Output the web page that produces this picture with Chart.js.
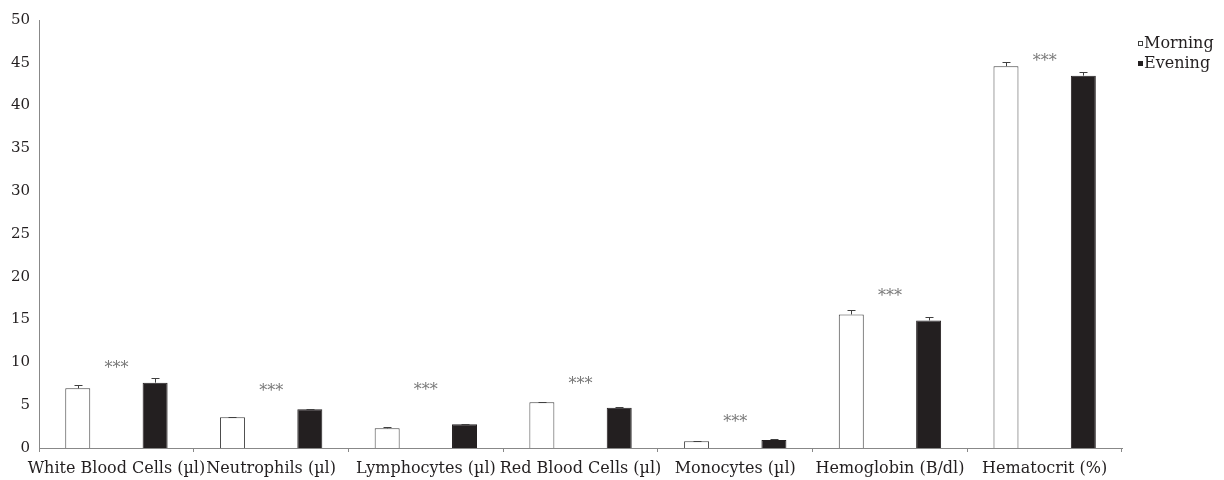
<!DOCTYPE html>
<html>
<head>
<meta charset="utf-8">
<script src="https://cdn.jsdelivr.net/npm/chart.js@4"></script>
<style>
  html, body { margin:0; padding:0; background:#fff; }
  #wrap { width:1224px; height:480px; }
</style>
</head>
<body>
<div id="wrap"><canvas id="chart" width="1224" height="480"></canvas></div>
<script>
// ----- Data -----
const CATEGORIES = ['White Blood Cells (\u00b5l)','Neutrophils (\u00b5l)','Lymphocytes (\u00b5l)','Red Blood Cells (\u00b5l)','Monocytes (\u00b5l)','Hemoglobin (B/dl)','Hematocrit (%)'];
const MORNING     = [6.97, 3.58, 2.30, 5.34, 0.78, 15.6, 44.6];
const MORNING_ERR = [0.40, 0.07, 0.15, 0.07, 0.07, 0.5, 0.5];
const EVENING     = [7.63, 4.52, 2.77, 4.71, 0.93, 14.9, 43.5];
const EVENING_ERR = [0.50, 0.08, 0.08, 0.12, 0.08, 0.4, 0.45];
const SIG_LEVEL   = [9.2, 6.6, 6.7, 7.4, 2.9, 17.7, 45.1];
const SIG_TEXT    = '***';
const Y_MIN = 0, Y_MAX = 50, Y_STEP = 5;

const FONT = 'DejaVu Serif';
const TEXT = '#231f20';

// ----- Plugins -----
const errorBars = {
  id:'errorBars',
  afterDatasetsDraw(chart){
    const {ctx, scales:{y}} = chart;
    ctx.save();
    ctx.strokeStyle = '#404040';
    ctx.lineWidth = 1;
    chart.data.datasets.forEach((ds,di)=>{
      const meta = chart.getDatasetMeta(di);
      meta.data.forEach((bar,i)=>{
        const top = Math.round(y.getPixelForValue(ds.data[i] + ds.errors[i])) + 0.5;
        const x = Math.round(bar.x) + 0.5;
        ctx.beginPath();
        ctx.moveTo(x, bar.y); ctx.lineTo(x, top);
        ctx.moveTo(x-4, top); ctx.lineTo(x+4, top);
        ctx.stroke();
      });
    });
    ctx.restore();
  }
};

const sigMarks = {
  id:'sigMarks',
  afterDatasetsDraw(chart){
    const {ctx, scales:{x,y}} = chart;
    ctx.save();
    ctx.fillStyle = '#777';
    ctx.font = `16px "${FONT}"`;
    ctx.textAlign = 'center';
    ctx.textBaseline = 'middle';
    SIG_LEVEL.forEach((v,i)=>{
      ctx.fillText(SIG_TEXT, x.getPixelForValue(i), y.getPixelForValue(v));
    });
    ctx.restore();
  }
};

// small legend: glyph-like square right against the text
const sideLegend = {
  id:'sideLegend',
  afterDraw(chart){
    const {ctx, chartArea} = chart;
    const left = chartArea.right + 16;
    ctx.save();
    ctx.font = `16px "${FONT}"`;
    ctx.textBaseline = 'alphabetic';
    ctx.textAlign = 'left';
    chart.data.datasets.forEach((ds,i)=>{
      const base = 48 + i*20;
      ctx.fillStyle = ds.backgroundColor;
      ctx.strokeStyle = ds.borderColor;
      ctx.lineWidth = 1;
      ctx.fillRect(left, base-7, 5, 5);
      ctx.strokeRect(left+0.5, base-6.5, 4, 4);
      ctx.fillStyle = TEXT;
      ctx.fillText(ds.label, left+6, base);
    });
    ctx.restore();
  }
};

// ----- Chart -----
const ctx = document.getElementById('chart').getContext('2d');
new Chart(ctx, {
  type:'bar',
  data:{
    labels: CATEGORIES,
    datasets:[
      { label:'Morning', data:MORNING, errors:MORNING_ERR, backgroundColor:'#ffffff', borderColor:'#404040', borderWidth:1,
        categoryPercentage:1.0, barPercentage:0.323 },
      { label:'Evening', data:EVENING, errors:EVENING_ERR, backgroundColor:'#231f20', borderColor:'#231f20', borderWidth:1,
        categoryPercentage:1.0, barPercentage:0.323 }
    ]
  },
  options:{
    responsive:false,
    animation:false,
    layout:{ padding:{ top:20, left:2, right:102, bottom:2 } },
    plugins:{
      legend:{ display:false },
      tooltip:{ enabled:false }
    },
    scales:{
      x:{
        afterFit(scale){ scale.paddingLeft = 0; scale.paddingRight = 0; scale.height = 30; },
        grid:{ display:true, offset:true, drawOnChartArea:false, drawTicks:true, tickLength:4, color:'#888' },
        border:{ display:true, color:'#888', width:1 },
        ticks:{ color:TEXT, font:{ family:FONT, size:16 }, maxRotation:0, autoSkip:false, padding:7 }
      },
      y:{
        min:Y_MIN, max:Y_MAX,
        grid:{ display:false, drawTicks:false, tickLength:0 },
        border:{ display:true, color:'#888', width:1 },
        ticks:{ stepSize:Y_STEP, color:TEXT, font:{ family:FONT, size:15 }, padding:9 }
      }
    }
  },
  plugins:[errorBars, sigMarks, sideLegend]
});
</script>
</body>
</html>
